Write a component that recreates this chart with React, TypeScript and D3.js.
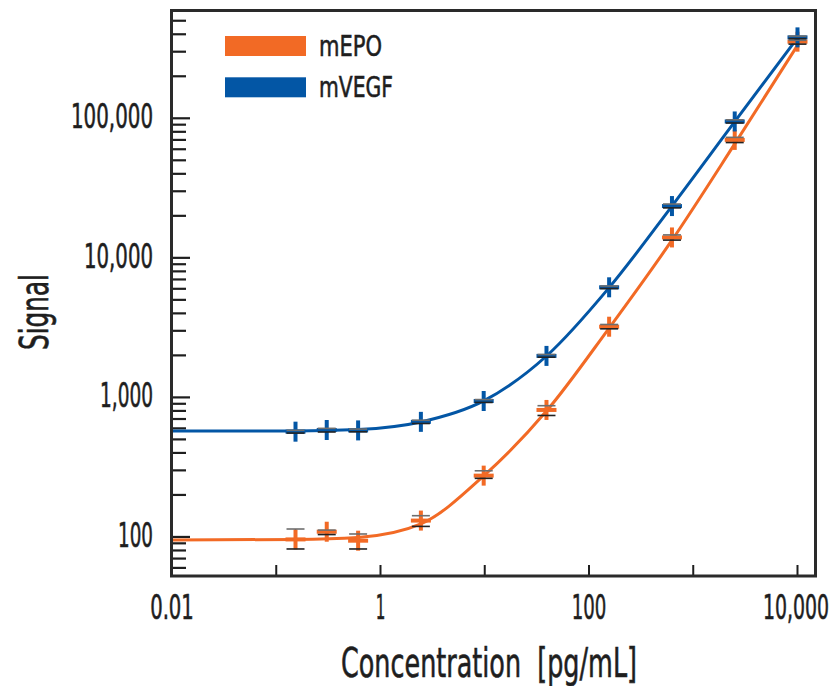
import React from "react";
import * as d3 from "d3";

const concentrations = [0.153, 0.305, 0.61, 2.44, 9.77, 39.1, 156, 625, 2500, 10000];
const mEPO = [96, 109, 94, 131, 275, 813, 3210, 14000, 70000, 354000];
const mEPOLow = [82, 104, 82, 119, 263, 742, 3100, 13400, 67000, 340000];
const mEPOHigh = [114, 112, 105, 142, 298, 872, 3330, 14600, 73000, 362000];
const mVEGF = [568, 584, 580, 668, 942, 1983, 6150, 23500, 94900, 380000];
const mVEGFLow = [555, 565, 567, 650, 920, 1940, 6020, 22800, 92500, 372000];
const mVEGFHigh = [581, 600, 593, 686, 965, 2030, 6280, 24300, 97500, 388000];

const curveX = [0.01, 0.153, 0.61, 2.44, 9.77, 39.1, 156, 625, 2500, 10000];
const curveEPO = [95.2, 96, 99.2, 124, 274, 798, 3140, 13380, 65500, 333000];
const curveVEGF = [575, 575, 589, 667, 944, 1980, 6120, 23500, 94500, 377000];

const xTicks = [0.01, 0.1, 1, 10, 100, 1000, 10000];
const xTickLabels = ["0.01", "", "1", "", "100", "", "10,000"];
const xLabelScaleX = [0.78, 1, 0.6, 1, 0.72, 1, 0.75];
const yMajor = [100, 1000, 10000, 100000];
const yMajorLabels = ["100", "1,000", "10,000", "100,000"];
const yLabelWidths = [35, 53, 69, 82];

const ORANGE = "#F26A25";
const BLUE = "#0356A5";
const FONT = "'DejaVu Sans Condensed', 'Liberation Sans Narrow', 'Arial Narrow', sans-serif";
const INK = "#1e1e1e";

const L = 172, R = 816, T = 10, B = 576;

export default function App() {
  const x = d3.scaleLog().domain([0.01, 15050]).range([L, R]);
  const y = d3.scaleLog().domain([52.5, 597000]).range([B, T]);

  const line = d3
    .line<number>()
    .x((_, i) => x(curveX[i]))
    .y((v) => y(v))
    .curve(d3.curveMonotoneX);

  const minor: number[] = [];
  for (let e = 1; e <= 5; e++) {
    for (let m = 2; m <= 9; m++) {
      const v = m * Math.pow(10, e);
      if (v > 52.5 && v < 597000) minor.push(v);
    }
  }

  const series = [
    { name: "mEPO", color: ORANGE, vals: mEPO, lo: mEPOLow, hi: mEPOHigh, curve: curveEPO, w: 63 },
    { name: "mVEGF", color: BLUE, vals: mVEGF, lo: mVEGFLow, hi: mVEGFHigh, curve: curveVEGF, w: 74 },
  ];

  const ms = 10;
  const cap = 9;
  const textStyle = { fontFamily: FONT, fill: INK, stroke: INK, strokeWidth: 0.5 };

  return (
    <svg width={839} height={686} style={{ position: "absolute", left: 0, top: 0, background: "#fff" }}>
      <rect x={0} y={0} width={839} height={686} fill="#fff" />
      {minor.map((v) => (
        <line key={"mn" + v} x1={L} x2={L + 14} y1={y(v)} y2={y(v)} stroke={INK} strokeWidth={2.2} />
      ))}
      {yMajor.map((v) => (
        <line key={"mj" + v} x1={L} x2={L + 18} y1={y(v)} y2={y(v)} stroke={INK} strokeWidth={2.2} />
      ))}
      {xTicks.map((v) => (
        <line key={"xt" + v} x1={x(v)} x2={x(v)} y1={B} y2={B - 11} stroke={INK} strokeWidth={2} />
      ))}
      {series.map((s) => (
        <path key={"c" + s.name} d={line(s.curve) || ""} fill="none" stroke={s.color} strokeWidth={3} />
      ))}
      {series.map((s) =>
        s.vals.map((_, i) => (
          <line
            key={"es" + s.name + i}
            x1={x(concentrations[i])}
            x2={x(concentrations[i])}
            y1={y(s.lo[i])}
            y2={y(s.hi[i])}
            stroke="#333"
            strokeWidth={1.5}
          />
        ))
      )}
      {series.map((s) =>
        s.vals.map((v, i) => {
          const cx = x(concentrations[i]);
          const cy = y(v);
          return (
            <g key={"m" + s.name + i} stroke={s.color} strokeWidth={4}>
              <line x1={cx - ms} x2={cx + ms} y1={cy} y2={cy} />
              <line x1={cx} x2={cx} y1={cy - ms} y2={cy + ms} />
            </g>
          );
        })
      )}
      {series.map((s) =>
        s.vals.map((_, i) => {
          const cx = x(concentrations[i]);
          return (
            <g key={"ec" + s.name + i} strokeWidth={1.6}>
              <line x1={cx - cap} x2={cx + cap} y1={y(s.hi[i])} y2={y(s.hi[i])} stroke="#6e6e6e" />
              <line x1={cx - cap} x2={cx + cap} y1={y(s.lo[i])} y2={y(s.lo[i])} stroke="#222" />
            </g>
          );
        })
      )}
      <rect x={L - 0.5} y={T + 0.5} width={R - L} height={B - T - 0.5} fill="none" stroke="#2a2a2a" strokeWidth={3} />
      {yMajor.map((v, i) => (
        <text
          key={"yl" + v}
          transform={`translate(${153 - yLabelWidths[i]},${y(v) + 10}) scale(1,1.2)`}
          textLength={yLabelWidths[i]}
          lengthAdjust="spacingAndGlyphs"
          fontSize={28}
          {...textStyle}
        >
          {yMajorLabels[i]}
        </text>
      ))}
      {xTicks.map((v, i) =>
        xTickLabels[i] ? (
          <text
            key={"xl" + v}
            transform={`translate(${x(v) - (i === 6 ? 1.5 : 0)},619) scale(${xLabelScaleX[i]},1.2)`}
            textAnchor="middle"
            fontSize={28}
            {...textStyle}
          >
            {xTickLabels[i]}
          </text>
        ) : null
      )}
      <text
        transform="translate(341,677) scale(1,1.15)"
        textLength={296}
        lengthAdjust="spacingAndGlyphs"
        fontSize={35}
        {...textStyle}
      >
        {"Concentration \u00a0[pg/mL]"}
      </text>
      <text
        transform="translate(48,350) rotate(-90) scale(1,1.2)"
        textLength={76}
        lengthAdjust="spacingAndGlyphs"
        fontSize={33}
        {...textStyle}
      >
        Signal
      </text>
      {series.map((s, i) => (
        <g key={"lg" + s.name}>
          <rect x={225} y={36 + i * 41.3} width={81} height={20} fill={s.color} />
          <text
            transform={`translate(319,${55.5 + i * 41.3}) scale(1,1.1)`}
            textLength={s.w}
            lengthAdjust="spacingAndGlyphs"
            fontSize={26}
            {...textStyle}
          >
            {s.name}
          </text>
        </g>
      ))}
    </svg>
  );
}
